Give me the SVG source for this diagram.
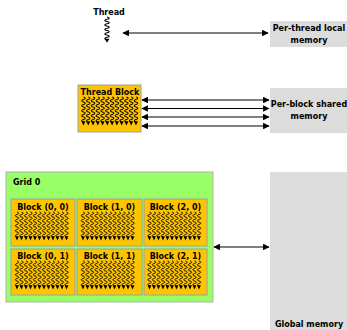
<svg xmlns="http://www.w3.org/2000/svg" xmlns:xlink="http://www.w3.org/1999/xlink" width="347" height="330" viewBox="0 0 347 330">
  <style>
    text { font-family: "DejaVu Sans", Verdana, sans-serif; font-weight: bold; font-size: 8px; fill: #000; }
    .mid { text-anchor: middle; }
    .mem { fill: #dcdcdc; stroke: none; }
    .blk { fill: #ffc400; stroke: #a0a0a0; stroke-width: 1; }
    .grid { fill: #99ff66; stroke: #b0b0b0; stroke-width: 1; }
    .link { stroke: #000; stroke-width: 1.2; fill: none; marker-start: url(#head); marker-end: url(#head); }
    .wave { fill: none; stroke: #000; stroke-width: 1; }
  </style>
  <defs>
    <marker id="head" viewBox="0 0 10 10" refX="9" refY="5" markerWidth="5.5" markerHeight="5.5" orient="auto-start-reverse">
      <path d="M0,0 L10,5 L0,10 z" fill="#000"/>
    </marker>
    <!-- one thread: wavy line ending in an arrowhead -->
    <g id="thread">
      <path class="wave" d="M0,0 c2.2,0.6 2.2,1.9 0,2.5 c-2.2,0.6 -2.2,1.9 0,2.5 c2.2,0.6 2.2,1.9 0,2.5 c-2.2,0.6 -2.2,1.9 0,2.5 c2.2,0.6 2.2,1.9 0,2.5 c-2.2,0.6 -2.2,1.9 0,2.5 c2.2,0.6 2.2,1.9 0,2.5 c-2.2,0.6 -2.2,1.9 0,2.5 c2.2,0.6 2.2,1.9 0,2.5 c-2.2,0.6 -2.2,1.9 0,2.5"/>
      <path d="M-1.9,24.3 L1.9,24.3 L0,28.5 z" fill="#000"/>
    </g>
    <!-- a row of 12 threads for a grid block -->
    <g id="threads12">
      <use xlink:href="#thread" x="0"/>
      <use xlink:href="#thread" x="4.5"/>
      <use xlink:href="#thread" x="9"/>
      <use xlink:href="#thread" x="13.5"/>
      <use xlink:href="#thread" x="18"/>
      <use xlink:href="#thread" x="22.5"/>
      <use xlink:href="#thread" x="27"/>
      <use xlink:href="#thread" x="31.5"/>
      <use xlink:href="#thread" x="36"/>
      <use xlink:href="#thread" x="40.5"/>
      <use xlink:href="#thread" x="45"/>
      <use xlink:href="#thread" x="49.5"/>
    </g>
  </defs>

  <!-- memory spaces -->
  <g id="local-memory">
    <rect class="mem" x="270" y="21" width="77" height="26"/>
    <text class="mid" x="309" y="31">Per-thread local</text>
    <text class="mid" x="309" y="43">memory</text>
  </g>
  <g id="shared-memory">
    <rect class="mem" x="270" y="88" width="77" height="45"/>
    <text class="mid" x="309" y="107">Per-block shared</text>
    <text class="mid" x="309" y="119">memory</text>
  </g>
  <g id="global-memory">
    <rect class="mem" x="270" y="172" width="77" height="158"/>
    <text class="mid" x="309" y="327">Global memory</text>
  </g>

  <!-- single thread -->
  <g id="thread-node">
    <text class="mid" x="109" y="15">Thread</text>
    <use xlink:href="#thread" transform="translate(107,17) scale(1.3,0.9)"/>
  </g>

  <!-- thread block -->
  <g id="thread-block">
    <rect class="blk" x="78" y="85" width="63" height="47"/>
    <text class="mid" x="110" y="95">Thread Block</text>
    <use xlink:href="#threads12" transform="translate(83.5,97) scale(1.06,1)"/>
  </g>

  <!-- grid of blocks -->
  <g id="grid-0">
    <rect class="grid" x="6" y="172" width="207" height="130"/>
    <text x="13" y="185">Grid 0</text>
  </g>
  <g id="block-0-0">
    <rect class="blk" x="11" y="199" width="64" height="47"/>
    <text class="mid" x="43" y="210">Block (0, 0)</text>
    <use xlink:href="#threads12" x="17" y="212"/>
  </g>
  <g id="block-1-0">
    <rect class="blk" x="77" y="199" width="65" height="47"/>
    <text class="mid" x="109.5" y="210">Block (1, 0)</text>
    <use xlink:href="#threads12" x="83" y="212"/>
  </g>
  <g id="block-2-0">
    <rect class="blk" x="144" y="199" width="63" height="47"/>
    <text class="mid" x="175.5" y="210">Block (2, 0)</text>
    <use xlink:href="#threads12" x="149.5" y="212"/>
  </g>
  <g id="block-0-1">
    <rect class="blk" x="11" y="249" width="64" height="46"/>
    <text class="mid" x="43" y="259">Block (0, 1)</text>
    <use xlink:href="#threads12" x="17" y="261"/>
  </g>
  <g id="block-1-1">
    <rect class="blk" x="77" y="249" width="65" height="46"/>
    <text class="mid" x="109.5" y="259">Block (1, 1)</text>
    <use xlink:href="#threads12" x="83" y="261"/>
  </g>
  <g id="block-2-1">
    <rect class="blk" x="144" y="249" width="63" height="46"/>
    <text class="mid" x="175.5" y="259">Block (2, 1)</text>
    <use xlink:href="#threads12" x="149.5" y="261"/>
  </g>

  <!-- connectors -->
  <g id="connectors">
    <line class="link" x1="123" y1="33" x2="268" y2="33"/>
    <line class="link" x1="142" y1="100" x2="269" y2="100"/>
    <line class="link" x1="142" y1="108.5" x2="269" y2="108.5"/>
    <line class="link" x1="142" y1="117" x2="269" y2="117"/>
    <line class="link" x1="142" y1="126" x2="269" y2="126"/>
    <line class="link" x1="214" y1="247" x2="269" y2="247"/>
  </g>
</svg>
